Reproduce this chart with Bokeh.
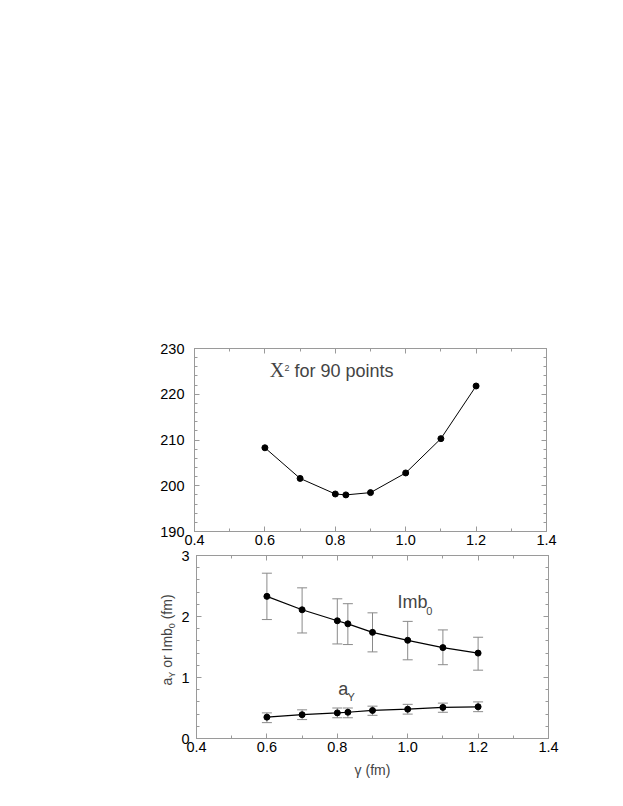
from bokeh.plotting import figure
from bokeh.layouts import column, row
from bokeh.models import (Range1d, LinearAxis, FixedTicker, PrintfTickFormatter,
                          CustomJSTickFormatter, ColumnDataSource, Whisker, TeeHead, Label)
from bokeh.embed import file_html
from bokeh.resources import INLINE
import math

# ---- data ----
gamma = [0.6, 0.7, 0.8, 0.83, 0.9, 1.0, 1.1, 1.2]
chi2 = [208.3, 201.6, 198.2, 198.0, 198.5, 202.8, 210.3, 221.8]
imb0 = [2.33, 2.11, 1.93, 1.88, 1.74, 1.61, 1.49, 1.40]
imb0_hi = [2.71, 2.47, 2.29, 2.21, 2.06, 1.92, 1.78, 1.66]
imb0_lo = [1.95, 1.73, 1.55, 1.54, 1.42, 1.29, 1.21, 1.12]
a_y = [0.35, 0.39, 0.42, 0.43, 0.46, 0.48, 0.51, 0.52]
a_y_hi = [0.42, 0.47, 0.50, 0.50, 0.53, 0.56, 0.58, 0.60]
a_y_lo = [0.26, 0.31, 0.34, 0.34, 0.38, 0.40, 0.43, 0.44]

x_major = [0.4, 0.6, 0.8, 1.0, 1.2, 1.4]
x_minor = [0.4, 0.5, 0.6, 0.7, 0.8, 0.9, 1.0, 1.1, 1.2, 1.3, 1.4]
chi_major = [190, 200, 210, 220, 230]
chi_minor = [190, 192, 194, 196, 198, 200, 202, 204, 206, 208, 210, 212, 214, 216, 218,
             220, 222, 224, 226, 228, 230]
b_major = [0, 1, 2, 3]
b_minor = [0, 0.2, 0.4, 0.6, 0.8, 1.0, 1.2, 1.4, 1.6, 1.8, 2.0, 2.2, 2.4, 2.6, 2.8, 3.0]

FRAME = "#9a9a9a"
ERR = "#8a8a8a"
FONT = "Liberation Sans"
TICKFS = "14.5px"
NB = "\u00a0"


def style_axis(ax, show_labels=True, standoff=4):
    ax.axis_line_color = FRAME
    ax.axis_line_width = 1
    ax.major_tick_line_color = FRAME
    ax.minor_tick_line_color = FRAME
    ax.major_tick_in = 5
    ax.major_tick_out = 0
    ax.minor_tick_in = 3
    ax.minor_tick_out = 0
    ax.major_label_standoff = standoff
    ax.major_label_text_font = FONT
    ax.major_label_text_font_size = TICKFS
    ax.major_label_text_color = "black"
    if not show_labels:
        ax.formatter = CustomJSTickFormatter(code="return ''")
        ax.major_label_standoff = 0


def make_fig(yr, ymaj, ymin, yfmt, left, top, bottom, ystand):
    p = figure(output_backend="svg", toolbar_location=None,
               frame_width=352, frame_height=183,
               min_border_left=left, min_border_right=77,
               min_border_top=top, min_border_bottom=bottom,
               x_range=Range1d(0.4, 1.4), y_range=Range1d(*yr),
               x_axis_location=None, y_axis_location=None)
    p.grid.visible = False
    p.outline_line_color = FRAME
    xt = FixedTicker(ticks=x_major, minor_ticks=x_minor)
    yt = FixedTicker(ticks=ymaj, minor_ticks=ymin)
    bx = LinearAxis(ticker=xt, formatter=PrintfTickFormatter(format="%.1f"))
    style_axis(bx, True, 3)
    tx = LinearAxis(ticker=xt)
    style_axis(tx, False)
    ly = LinearAxis(ticker=yt, formatter=PrintfTickFormatter(format=yfmt))
    style_axis(ly, True, ystand)
    ry = LinearAxis(ticker=yt)
    style_axis(ry, False)
    p.add_layout(bx, "below")
    p.add_layout(tx, "above")
    p.add_layout(ly, "left")
    p.add_layout(ry, "right")
    return p, bx


def lab(p, x, y, t, fs, font=FONT, angle=0.0):
    p.add_layout(Label(x=x, y=y, text=t, text_font=font, text_font_size=fs,
                       angle=angle, text_baseline="middle", text_align="left"))


# ---- top panel ----
p1, _ = make_fig((190, 230), chi_major, chi_minor, "%d", 194, 348, 16, 10)
src1 = ColumnDataSource(dict(x=gamma, y=chi2))
p1.line("x", "y", source=src1, line_color="black", line_width=1)
p1.scatter("x", "y", source=src1, size=6, color="black")
lab(p1, 0.614, 225.21, "X", "20px", font="Liberation Serif")
lab(p1, 0.656, 225.70, "2", "9px")
lab(p1, 0.684, 225.09, "for 90 points", "18px")

# ---- bottom panel ----
p2, bx2 = make_fig((0, 3), b_major, b_minor, "%d", 16, 8, 49, 7)
bx2.axis_label = "γ (fm)"
bx2.axis_label_text_font = FONT
bx2.axis_label_text_font_size = "14px"
bx2.axis_label_text_font_style = "normal"
bx2.axis_label_standoff = 7

srcI = ColumnDataSource(dict(x=gamma, y=imb0, hi=imb0_hi, lo=imb0_lo))
srcA = ColumnDataSource(dict(x=gamma, y=a_y, hi=a_y_hi, lo=a_y_lo))
for s in (srcI, srcA):
    w = Whisker(source=s, base="x", upper="hi", lower="lo", line_color=ERR, line_width=1,
                upper_head=TeeHead(size=10, line_color=ERR, line_width=1),
                lower_head=TeeHead(size=10, line_color=ERR, line_width=1))
    p2.add_layout(w)
    p2.line("x", "y", source=s, line_color="black", line_width=1.2)
    p2.scatter("x", "y", source=s, size=6, color="black")

lab(p2, 0.971, 2.232, "Imb", "18px")
lab(p2, 1.053, 2.092, "0", "11px")
lab(p2, 0.803, 0.807, "a", "18px")
lab(p2, 0.829, 0.682, "Y", "11px")

# ---- strip left of the bottom panel carrying the rotated y-axis title ----
pl = figure(output_backend="svg", toolbar_location=None,
            frame_width=178, frame_height=183,
            min_border_left=0, min_border_right=0,
            min_border_top=8, min_border_bottom=49,
            x_range=Range1d(0, 178), y_range=p2.y_range,
            x_axis_location=None, y_axis_location=None)
pl.grid.visible = False
pl.outline_line_color = None
ang = math.pi / 2
lab(pl, 166.85, 0.869, "a", "14px", angle=ang)
lab(pl, 171.2, 0.997, "Y", "9px", angle=ang)
lab(pl, 166.85, 1.095, NB + "or" + NB + "Imb", "14px", angle=ang)
lab(pl, 171.2, 1.808, "0", "9px", angle=ang)
lab(pl, 166.85, 1.890, NB + "(fm)", "14px", angle=ang)

layout = column(p1, row(pl, p2, spacing=0), spacing=0)
open("out.html", "w").write(file_html(layout, INLINE))
